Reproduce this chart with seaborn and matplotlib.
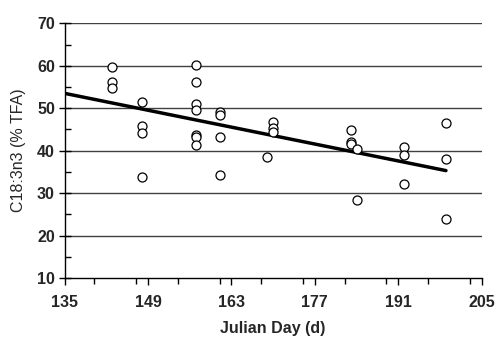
import numpy as np
import pandas as pd
import matplotlib
matplotlib.use("Agg")
import matplotlib.pyplot as plt
from matplotlib.ticker import MultipleLocator
import seaborn as sns

# Data
day = [143, 143, 143,
       148, 148, 148, 148,
       157, 157, 157, 157, 157, 157, 157,
       161, 161, 161, 161,
       169,
       170, 170, 170,
       183, 183, 183,
       184, 184,
       192, 192, 192,
       199, 199, 199]
c183 = [59.6, 56.1, 54.7,
        51.5, 45.8, 44.2, 33.8,
        60.2, 56.2, 51.0, 49.5, 43.6, 43.2, 41.4,
        49.2, 48.4, 43.3, 34.2,
        38.6,
        46.8, 45.4, 44.3,
        44.9, 42.0, 41.5,
        40.3, 28.3,
        40.9, 39.0, 32.1,
        46.6, 38.1, 23.9]
trend_day = [135, 199]
trend_val = [53.5, 35.3]
x_ticks = [135, 149, 163, 177, 191, 205]
y_ticks = [10, 20, 30, 40, 50, 60, 70]

df = pd.DataFrame({"day": day, "val": c183})
tr = pd.DataFrame({"day": trend_day, "val": trend_val})

sns.set_style("white")
plt.rcParams["font.family"] = ["Liberation Sans", "DejaVu Sans"]

fig = plt.figure(figsize=(4.95, 3.38), dpi=100)
ax = fig.add_axes([64.6 / 495, 1 - 278 / 338, (481.7 - 64.6) / 495, (278 - 23.3) / 338])

for v in y_ticks[1:]:
    ax.axhline(v, color="#404040", lw=1.0, zorder=0)

sns.lineplot(data=tr, x="day", y="val", ax=ax, color="black", lw=2.5, zorder=2)
sns.scatterplot(data=df, x="day", y="val", ax=ax, marker="o", s=42,
                facecolor="white", edgecolor="black", linewidth=0.9, zorder=3)

ax.set_xlim(135, 205)
ax.set_ylim(10, 70)
ax.set_xticks(x_ticks)
ax.set_yticks(y_ticks)
ax.xaxis.set_minor_locator(MultipleLocator(7))
ax.yaxis.set_minor_locator(MultipleLocator(5))
ax.tick_params(axis="y", which="major", direction="inout", length=8, width=1, color="black",
               left=True, labelsize=11.5, pad=3)
ax.tick_params(axis="y", which="minor", direction="in", length=4, width=1, color="black", left=True)
ax.tick_params(axis="x", which="major", direction="out", length=5, width=1, color="black",
               bottom=True, labelsize=11.5, pad=7)
ax.tick_params(axis="x", which="minor", direction="out", length=4, width=1, color="black", bottom=True)
for lab in ax.get_xticklabels() + ax.get_yticklabels():
    lab.set_fontweight("bold")

for s in ["top", "right"]:
    ax.spines[s].set_visible(False)
for s in ["left", "bottom"]:
    ax.spines[s].set_color("black")
    ax.spines[s].set_linewidth(1.0)

ax.set_xlabel("Julian Day (d)", fontsize=11.5, fontweight="bold", labelpad=8)
ax.set_ylabel("C18:3n3 (% TFA)", fontsize=11.5, labelpad=8)

fig.savefig("out.png", dpi=100)
